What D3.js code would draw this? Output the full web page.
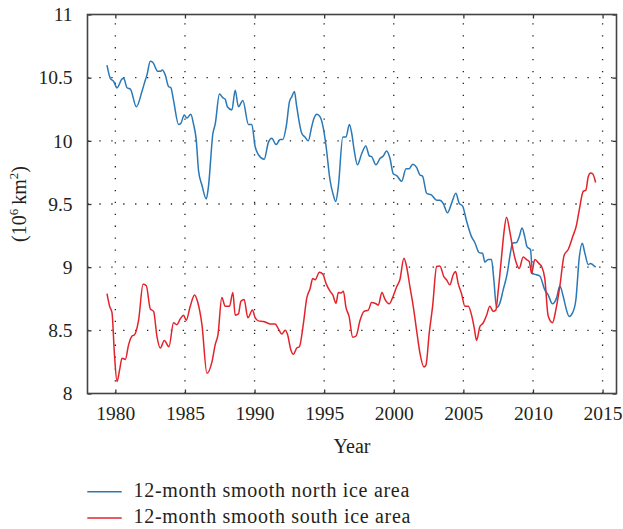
<!DOCTYPE html>
<html>
<head>
<meta charset="utf-8">
<script src="https://cdn.jsdelivr.net/npm/d3@7"></script>
<style>
  html, body { margin: 0; padding: 0; background: #fff; }
  svg { display: block; font-family: "Liberation Serif", "DejaVu Serif", serif; }
</style>
</head>
<body>
<svg id="chart" width="623" height="529"></svg>
<script>
// 12-month smoothed sea ice area (10^6 km^2)
const northYear = [1979.40,1979.64,1979.88,1980.12,1980.48,1980.60,1980.84,1981.08,1981.51,1981.91,1982.15,1982.27,1982.51,1982.70,1983.04,1983.23,1983.37,1983.59,1983.82,1983.99,1984.18,1984.54,1984.71,1984.95,1985.14,1985.42,1985.62,1985.81,1985.98,1986.22,1986.53,1986.69,1987.01,1987.17,1987.48,1987.73,1987.89,1988.05,1988.37,1988.61,1988.84,1989.16,1989.56,1989.80,1990.04,1990.28,1990.69,1991.00,1991.24,1991.55,1991.84,1992.03,1992.27,1992.51,1992.68,1992.86,1993.03,1993.39,1993.62,1993.86,1994.10,1994.28,1994.47,1994.71,1994.94,1995.14,1995.42,1995.66,1995.83,1996.02,1996.34,1996.57,1996.81,1996.98,1997.15,1997.39,1997.70,1997.99,1998.25,1998.41,1998.72,1999.01,1999.25,1999.49,1999.73,1999.96,2000.21,2000.57,2000.88,2001.11,2001.36,2001.64,2001.88,2002.07,2002.36,2002.72,2003.08,2003.31,2003.55,2003.86,2004.15,2004.46,2004.70,2004.94,2005.22,2005.59,2005.82,2006.14,2006.38,2006.54,2006.78,2007.02,2007.19,2007.38,2007.62,2007.86,2008.15,2008.39,2008.53,2008.82,2009.01,2009.22,2009.41,2009.58,2009.82,2009.97,2010.25,2010.49,2010.85,2011.09,2011.40,2011.69,2011.93,2012.17,2012.41,2012.60,2012.85,2013.08,2013.32,2013.54,2013.73,2013.97,2014.14,2014.28,2014.50];
const northArea = [10.60,10.495,10.47,10.42,10.49,10.495,10.42,10.41,10.27,10.39,10.48,10.52,10.63,10.62,10.55,10.55,10.56,10.52,10.43,10.42,10.32,10.13,10.14,10.205,10.18,10.21,10.13,10.01,9.76,9.65,9.54,9.64,10.06,10.13,10.37,10.34,10.33,10.27,10.245,10.40,10.27,10.32,10.13,10.13,9.955,9.89,9.855,9.99,10.02,9.97,10.01,10.01,10.11,10.31,10.35,10.39,10.27,10.06,10.03,10.00,10.11,10.18,10.21,10.19,10.10,9.955,9.69,9.57,9.52,9.64,10.03,10.03,10.13,10.06,9.93,9.81,9.90,9.96,9.88,9.875,9.81,9.86,9.88,9.92,9.86,9.74,9.725,9.68,9.78,9.78,9.815,9.79,9.73,9.72,9.585,9.57,9.53,9.53,9.505,9.43,9.505,9.585,9.505,9.485,9.37,9.24,9.195,9.115,9.11,9.04,9.06,9.06,8.90,8.68,8.715,8.82,8.95,9.12,9.19,9.195,9.24,9.31,9.24,9.16,9.14,8.95,8.94,8.93,8.82,8.78,8.71,8.755,8.85,8.77,8.66,8.61,8.64,8.74,9.07,9.19,9.11,9.02,9.03,9.02,9.00];

const southYear = [1979.40,1979.59,1979.76,1979.93,1980.12,1980.31,1980.48,1980.72,1980.95,1981.20,1981.38,1981.67,1981.99,1982.22,1982.51,1982.75,1982.99,1983.23,1983.52,1983.85,1984.18,1984.42,1984.66,1984.90,1985.09,1985.38,1985.69,1985.90,1986.22,1986.58,1986.94,1987.17,1987.37,1987.65,1987.89,1988.20,1988.44,1988.61,1988.84,1989.02,1989.25,1989.52,1989.85,1990.04,1990.28,1990.64,1990.88,1991.12,1991.48,1991.72,1991.96,1992.20,1992.36,1992.61,1992.79,1993.03,1993.22,1993.51,1993.75,1993.99,1994.18,1994.35,1994.66,1994.90,1995.14,1995.42,1995.62,1995.85,1996.02,1996.21,1996.38,1996.57,1996.79,1997.05,1997.29,1997.58,1997.86,1998.17,1998.41,1998.72,1998.89,1999.15,1999.37,1999.68,1999.92,2000.21,2000.44,2000.73,2000.92,2001.16,2001.40,2001.64,2001.88,2002.17,2002.31,2002.55,2002.79,2003.08,2003.31,2003.60,2003.79,2004.03,2004.27,2004.44,2004.63,2004.87,2005.11,2005.35,2005.59,2005.78,2005.95,2006.19,2006.43,2006.67,2006.90,2007.14,2007.33,2007.50,2007.74,2007.91,2008.10,2008.34,2008.53,2008.77,2009.01,2009.30,2009.54,2009.73,2009.90,2010.13,2010.42,2010.62,2010.85,2011.09,2011.40,2011.64,2011.93,2012.24,2012.53,2012.85,2013.13,2013.32,2013.61,2013.80,2013.97,2014.14,2014.28,2014.50];
const southArea = [8.79,8.69,8.64,8.32,8.095,8.19,8.28,8.27,8.385,8.455,8.465,8.58,8.865,8.855,8.67,8.65,8.45,8.36,8.42,8.37,8.56,8.545,8.59,8.62,8.58,8.69,8.78,8.73,8.545,8.16,8.25,8.385,8.465,8.76,8.69,8.69,8.80,8.62,8.63,8.73,8.745,8.60,8.66,8.60,8.575,8.57,8.56,8.55,8.55,8.51,8.47,8.50,8.47,8.345,8.31,8.36,8.37,8.555,8.755,8.83,8.91,8.90,8.96,8.945,8.87,8.81,8.78,8.715,8.80,8.795,8.81,8.68,8.61,8.445,8.455,8.58,8.65,8.66,8.72,8.71,8.70,8.80,8.745,8.71,8.76,8.845,8.90,9.07,9.005,8.845,8.69,8.50,8.32,8.21,8.225,8.48,8.69,9.005,9.01,8.925,8.90,8.86,8.94,8.965,8.87,8.79,8.69,8.69,8.62,8.52,8.42,8.53,8.56,8.62,8.69,8.65,8.66,8.81,9.08,9.27,9.395,9.28,9.16,9.045,8.99,9.08,9.06,9.045,8.95,9.06,9.03,9.005,8.91,8.615,8.56,8.66,8.85,9.095,9.14,9.24,9.335,9.45,9.60,9.61,9.715,9.745,9.74,9.67];

const xTicks = [1980, 1985, 1990, 1995, 2000, 2005, 2010, 2015];
const yTicks = [8, 8.5, 9, 9.5, 10, 10.5, 11];
const yTickLabels = ["8", "8.5", "9", "9.5", "10", "10.5", "11"];
const seriesNames = ["12-month smooth north ice area", "12-month smooth south ice area"];
const seriesColors = ["#2a78b6", "#e3232b"];

const svg = d3.select("#chart");
const margin = { left: 87.5, top: 14.5, right: 6.5, bottom: 135.5 };
const W = 623, H = 529;
const pw = W - margin.left - margin.right;
const ph = H - margin.top - margin.bottom;

const x = d3.scaleLinear().domain([1978, 2016]).range([0, pw]);
const y = d3.scaleLinear().domain([8, 11]).range([ph, 0]);

const g = svg.append("g").attr("transform", `translate(${margin.left},${margin.top})`);
const tickFont = 19.5;
const labelFont = 20;
const ink = "#231f20";

// dotted grid
const grid = g.append("g").attr("stroke", "#222").attr("stroke-width", 1.3)
  .attr("stroke-dasharray", "1.3,10.6");
grid.selectAll("line.v").data(xTicks).join("line").attr("class", "v")
  .attr("x1", d => x(d)).attr("x2", d => x(d))
  .attr("y1", ph).attr("y2", 0);
grid.selectAll("line.h").data(yTicks.slice(1, -1)).join("line").attr("class", "h")
  .attr("x1", 0).attr("x2", pw)
  .attr("y1", d => y(d)).attr("y2", d => y(d));

// series lines
const line = d3.line().x(d => x(d[0])).y(d => y(d[1])).curve(d3.curveMonotoneX);
const north = northYear.map((t, i) => [t, northArea[i]]);
const south = southYear.map((t, i) => [t, southArea[i]]);
[north, south].forEach((s, i) => {
  g.append("path").datum(s).attr("d", line)
    .attr("fill", "none").attr("stroke", seriesColors[i])
    .attr("stroke-width", 1.5).attr("stroke-linejoin", "round");
});

// axes with inward ticks on all sides
const tl = 4;
const axisB = g.append("g").attr("transform", `translate(0,${ph})`)
  .call(d3.axisBottom(x).tickValues(xTicks).tickFormat(d3.format("d")).tickSizeInner(-tl).tickSizeOuter(0).tickPadding(13));
const axisT = g.append("g")
  .call(d3.axisTop(x).tickValues(xTicks).tickFormat("").tickSizeInner(-tl).tickSizeOuter(0));
const axisL = g.append("g")
  .call(d3.axisLeft(y).tickValues(yTicks).tickFormat((d, i) => yTickLabels[i]).tickSizeInner(-tl).tickSizeOuter(0).tickPadding(15));
const axisR = g.append("g").attr("transform", `translate(${pw},0)`)
  .call(d3.axisRight(y).tickValues(yTicks).tickFormat("").tickSizeInner(-tl).tickSizeOuter(0));
[axisB, axisT, axisL, axisR].forEach(a => {
  a.select(".domain").remove();
  a.selectAll(".tick line").attr("stroke", "#333").attr("stroke-width", 1.3);
  a.selectAll("text").attr("font-family", "Liberation Serif, serif")
    .attr("font-size", tickFont).attr("fill", ink);
});

// frame
g.append("rect").attr("x", 0).attr("y", 0).attr("width", pw).attr("height", ph)
  .attr("fill", "none").attr("stroke", "#444").attr("stroke-width", 1.6);

// axis titles
svg.append("text").attr("x", margin.left + pw / 2).attr("y", 453)
  .attr("text-anchor", "middle").attr("font-size", labelFont).attr("fill", ink)
  .text("Year");

const yt = svg.append("text")
  .attr("transform", `translate(26,${margin.top + ph / 2}) rotate(-90)`)
  .attr("text-anchor", "middle").attr("font-size", labelFont).attr("fill", ink);
yt.append("tspan").text("(10");
yt.append("tspan").attr("font-size", 13).attr("dy", -8).text("6");
yt.append("tspan").attr("dy", 8).text("\u2009km");
yt.append("tspan").attr("font-size", 13).attr("dy", -8).text("2");
yt.append("tspan").attr("dy", 8).text(")");

// legend
const legend = svg.append("g");
seriesNames.forEach((name, i) => {
  const ly = 491.7 + i * 26.3;
  legend.append("line").attr("x1", 87.3).attr("x2", 121.7).attr("y1", ly).attr("y2", ly)
    .attr("stroke", seriesColors[i]).attr("stroke-width", 1.5);
  legend.append("text").attr("x", 133.5).attr("y", ly + 5)
    .attr("font-size", labelFont).attr("letter-spacing", 0.7)
    .attr("fill", ink).text(name);
});
</script>
</body>
</html>
